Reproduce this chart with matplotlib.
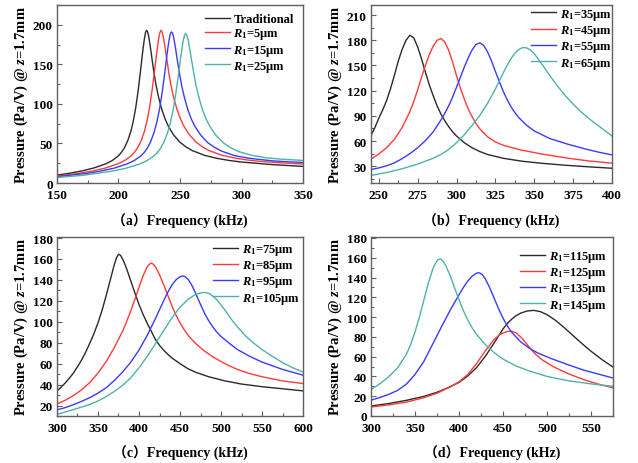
import matplotlib
matplotlib.use('Agg')
import matplotlib.pyplot as plt
from matplotlib.ticker import MultipleLocator, AutoMinorLocator

plt.rcParams['font.family'] = ['Liberation Serif', 'Noto Sans CJK SC']
plt.rcParams['font.weight'] = 'bold'
plt.rcParams['mathtext.fontset'] = 'custom'
plt.rcParams['mathtext.rm'] = 'Liberation Serif:bold'
plt.rcParams['mathtext.it'] = 'Liberation Serif:italic:bold'
plt.rcParams['mathtext.bf'] = 'Liberation Serif:bold'

# ---------------- Panel (a) ----------------
a_trad_f = [150, 160, 170, 180, 190, 195, 200, 202.5, 205, 207.5, 210, 212, 214, 216, 218, 219.5, 221, 222,
            222.8, 223.6, 224.6, 226, 227.5, 229, 230.5, 232.5, 235, 237.5, 240, 242.5, 245, 250, 255, 260,
            270, 280, 290, 300, 325, 350]
a_trad_p = [10, 12.3, 15.2, 19, 24.5, 28.5, 34.5, 39, 45, 53.5, 65, 78, 95, 117, 143, 164, 182, 190.5,
            193, 191.5, 185, 171, 154, 138, 124, 109, 94, 82.5, 73.5, 66.5, 60.5, 51.5, 45.5, 41,
            35, 31.2, 28.5, 26.5, 23.3, 21]
a_r5_f = [150, 168.3, 178.8, 189.4, 199.9, 205.2, 210.5, 213.1, 215.7, 218.4, 221, 223.1, 225.2, 227.3, 229.4,
          231, 232.6, 233.7, 234.5, 235.3, 236.4, 237.9, 239.5, 241, 242.6, 244.7, 247.4, 250, 252.6, 255.3,
          257.9, 263.2, 268.4, 273.7, 284.2, 294.8, 305.3, 315.9, 332, 350]
a_r5_p = [8.5, 12.4, 15.2, 18.9, 24.5, 28.6, 34.5, 39, 45, 53.5, 65, 78, 95, 117, 143,
          164, 182, 190.5, 193, 191.5, 185, 171, 154, 138, 124, 109, 94, 82.5, 73.5, 66.5,
          60.5, 51.5, 45.5, 41, 35, 31.5, 29, 27.3, 25.5, 24]
a_r15_f = [150, 174.5, 185.4, 196.3, 207.2, 212.7, 218.1, 220.9, 223.6, 226.3, 229, 231.2, 233.4, 235.6,
           237.8, 239.4, 241, 242.1, 243, 243.9, 245, 246.5, 248.1, 249.8, 251.4, 253.6, 256.3, 259, 261.7,
           264.5, 267.2, 272.6, 278.1, 283.5, 294.4, 305.3, 316.2, 327.1, 340, 350]
a_r15_p = [8, 12.2, 15.1, 18.7, 24.3, 28.3, 34.2, 38.6, 44.5, 52.9, 64.4, 77.2, 94, 115.7,
           141.5, 162.4, 180, 188.5, 191, 189.5, 183, 169, 152.4, 136.6, 122.6, 108, 93, 81.6, 72.8,
           65.9, 59.8, 51, 45, 40.5, 34.6, 31.5, 29.5, 27.8, 26.7, 26]
a_r25_f = [150, 171.5, 194.3, 205.7, 217.1, 222.8, 228.5, 231.4, 234.2, 237.1, 239.9, 242.2, 244.5, 246.7,
           249, 250.7, 252.4, 253.6, 254.5, 255.4, 256.6, 258.1, 259.9, 261.6, 263.3, 265.6, 268.4, 271.3,
           274.1, 277, 279.8, 285.5, 291.2, 296.9, 308.3, 319.7, 331.1, 350]
a_r25_p = [7, 9.8, 14.9, 18.5, 24, 28, 33.8, 38.2, 44, 52.4, 63.7, 76.4, 93, 114.5,
           140, 160.7, 178.2, 186.5, 189, 187.5, 181.3, 167.5, 150.8, 135.1, 121.3, 106.8, 92, 80.7,
           72, 65.2, 59.2, 50.5, 44.6, 40.1, 35, 32, 30.3, 28.5]

# ---------------- Panel (b) ----------------
b_r35_f = [245, 247.5, 250, 252.5, 255, 257.5, 260, 262.5, 265, 267.5, 270, 272.5, 275, 277.5, 280, 282.5,
           285, 287.5, 290, 292.5, 295, 297.5, 300, 305, 310, 315, 320, 330, 342, 355, 369, 385, 400]
b_r35_p = [66.5, 76, 87, 97, 108, 122, 138, 155, 169, 180, 186, 183, 172, 158, 142, 127,
           114, 102, 92, 84, 77, 71, 66, 58, 52, 47.5, 44, 39.5, 36, 33.5, 31.3, 29.3, 27.6]
b_r45_f = [245, 250, 255, 260, 265, 270, 272.5, 275, 277.5, 280, 282.5, 285, 287.5, 290, 292.5, 295, 297.5,
           300, 302.5, 305, 307.5, 310, 312.5, 315, 320, 325, 330, 341, 355, 372, 385, 400]
b_r45_p = [38.5, 44.5, 52, 62, 76, 95, 107, 121, 136, 150, 163, 173, 180, 182, 178, 168, 154,
           138, 123, 110, 98.5, 89, 81, 74.5, 65, 59, 55, 49.5, 44.5, 39.5, 36.3, 33.6]
b_r55_f = [245, 250, 255, 260, 265, 270, 275, 280, 285, 290, 292.5, 295, 297.5, 300, 302.5, 305, 307.5, 310,
           312.5, 315, 317.5, 320, 322.5, 325, 327.5, 330, 332.5, 335, 337.5, 340, 345, 350, 360, 372,
           383, 392, 400]
b_r55_p = [26, 28, 30.5, 34, 39, 45, 52, 60.5, 71, 85, 93, 102, 112.5, 124, 136, 148, 159, 168.5,
           175, 177, 174, 166, 155.5, 143, 131, 119.5, 109.5, 101, 94, 88, 79, 72, 63, 56,
           50.5, 46.5, 43.5]
b_r65_f = [245, 255, 265, 275, 285, 290, 295, 300, 305, 310, 315, 320, 325, 330, 332.5, 335, 337.5, 340,
           342.5, 345, 347.5, 350, 355, 360, 365, 370, 375, 380, 385, 390, 395, 400]
b_r65_p = [19, 22.5, 27, 32.5, 39.5, 44, 50, 58, 67.5, 78.5, 90.5, 105, 122, 141, 150, 158, 164.5, 169,
           171.3, 171, 168.5, 164, 151.5, 138, 125.5, 114, 104, 95, 87, 80, 73, 66]

# ---------------- Panel (c) ----------------
c_r75_f = [300, 305, 310, 315, 320, 325, 330, 335, 340, 345, 350, 355, 360, 365, 370, 372.5, 375, 377.5,
           380, 382.5, 385, 390, 395, 400, 405, 410, 415, 420, 425, 430, 435, 440, 450, 460, 470, 485,
           505, 525, 550, 575, 600]
c_r75_p = [34, 37.5, 41.5, 46, 51, 57, 63.5, 71, 79.5, 88.5, 99, 111, 125, 140, 155, 161, 164.5, 163.5,
           160, 155.5, 150.5, 139, 127.5, 116.5, 107, 98.5, 91, 83, 77.5, 73, 69, 65.5, 60, 55, 51.5, 47.5,
           43.5, 40.5, 38, 36, 34]
c_r85_f = [300, 310, 320, 330, 340, 350, 360, 370, 380, 385, 390, 395, 400, 405, 410, 412.5, 415, 417.5,
           420, 425, 430, 435, 440, 445, 450, 455, 460, 465, 470, 480, 490, 500, 510, 520, 535, 550,
           575, 600]
c_r85_p = [21.5, 25, 29.5, 35, 42, 51, 62, 75.5, 91, 100.5, 110.5, 121.5, 133, 144, 152.5, 155, 156, 155,
           152.5, 145, 135.5, 125.5, 115.5, 106.5, 99, 92.5, 87, 82.5, 78.5, 72, 66.5, 62, 58, 54.5,
           50.5, 47.5, 43.5, 41]
c_r95_f = [300, 310, 320, 330, 340, 350, 360, 370, 380, 390, 400, 410, 420, 425, 430, 435, 440, 445, 450,
           453, 456, 460, 465, 470, 475, 480, 485, 490, 495, 500, 510, 520, 535, 550, 575, 600]
c_r95_p = [15.8, 18, 20.8, 24, 27.5, 31.8, 37, 44, 52, 61.5, 73, 87, 103, 111.5, 120, 128, 135, 140, 143,
           143.8, 143.3, 140.5, 134, 125.5, 116.5, 108, 101, 95, 90, 86, 79.5, 73.5, 67, 61.5, 54.5, 49]
c_r105_f = [300, 310, 320, 330, 340, 350, 360, 370, 380, 390, 400, 410, 420, 430, 440, 450, 460, 467.5,
            475, 481, 487, 495, 500, 505, 512.5, 520, 530, 540, 550, 562.5, 575, 587.5, 600]
c_r105_p = [11.7, 13.8, 16.1, 18.5, 21, 24.3, 28.6, 33.5, 39.3, 46.5, 56, 67, 79, 91.5, 103.5, 114, 121.5,
            125.5, 127.6, 128, 126.5, 121, 116, 111, 102.5, 95, 86.5, 79.5, 73.5, 67, 61, 56, 52]

# ---------------- Panel (d) ----------------
d_r115_f = [300, 320, 340, 360, 375, 390, 400, 410, 420, 430, 440, 450, 455, 460, 465, 470, 477.5, 485,
            492.5, 500, 510, 520, 530, 540, 550, 562.5, 575]
d_r115_p = [10.1, 12.6, 15.8, 19.8, 24, 29.5, 34, 40.5, 49, 60.5, 74, 88, 93.5, 98, 101.5, 104, 106.2,
            106.8, 105.5, 102.5, 96.5, 89, 81, 73, 65.5, 57, 49.5]
d_r125_f = [300, 320, 340, 360, 375, 390, 400, 410, 420, 430, 440, 447.5, 455, 460, 465, 470, 475, 480,
            487.5, 495, 505, 515, 525, 535, 545, 560, 575]
d_r125_p = [9.1, 11.2, 14, 18.5, 23, 29.5, 34.5, 42, 53, 66, 77.5, 83, 85.5, 85.7, 84, 80, 75, 69.5,
            62, 56.5, 51, 46.5, 42.5, 39, 35.8, 31.8, 28.5]
d_r135_f = [300, 310, 320, 330, 340, 350, 360, 370, 380, 390, 400, 405, 410, 415, 420, 423, 426.5, 430,
            435, 440, 445, 450, 455, 460, 470, 480, 490, 505, 525, 543, 560, 575]
d_r135_p = [16, 18.7, 21.8, 25.8, 32, 42, 55, 72.5, 90, 107, 122.5, 130, 136.5, 141.5, 144.5, 144.8, 143,
            138.5, 129.5, 119, 108.5, 99, 91, 84.5, 75, 68.5, 63.5, 58, 51.5, 46, 42, 38.4]
d_r145_f = [300, 310, 320, 330, 340, 345, 350, 355, 360, 365, 370, 373, 376, 379, 382, 385, 390, 395, 400,
            405, 410, 415, 420, 430, 440, 450, 465, 480, 500, 525, 550, 575]
d_r145_p = [26.6, 32.5, 39.5, 48.5, 62, 72, 85, 100, 117, 134, 148, 154, 158, 158.8, 156.5, 152, 142,
            129.5, 117.5, 106.5, 97, 89, 82.5, 72, 64, 57.5, 50.5, 45.5, 40, 35.5, 32.5, 30]

colors = ['#2a2a2a', '#ff3a3a', '#3a3aff', '#4cb2ab']


def R(v):
    return r'$\mathit{R}_{\mathit{1}}$=' + v + 'μm'


panels = [
    dict(pos=[0.0893, 0.6034, 0.3857, 0.3836], xlim=(150, 350), ylim=(0, 225), xstep=50, ystep=50,
         tag='a', leg=(0.60, 0.955),
         series=[(a_trad_f, a_trad_p, 'Traditional'), (a_r5_f, a_r5_p, R('5')),
                 (a_r15_f, a_r15_p, R('15')), (a_r25_f, a_r25_p, R('25'))]),
    dict(pos=[0.5815, 0.6034, 0.3777, 0.3836], xlim=(245, 400), ylim=(10, 222), xstep=25, ystep=30,
         tag='b', leg=(0.664, 0.99),
         series=[(b_r35_f, b_r35_p, R('35')), (b_r45_f, b_r45_p, R('45')),
                 (b_r55_f, b_r55_p, R('55')), (b_r65_f, b_r65_p, R('65'))]),
    dict(pos=[0.0893, 0.1013, 0.3857, 0.3858], xlim=(300, 600), ylim=(10, 181), xstep=50, ystep=20,
         tag='c', leg=(0.634, 0.972),
         series=[(c_r75_f, c_r75_p, R('75')), (c_r85_f, c_r85_p, R('85')),
                 (c_r95_f, c_r95_p, R('95')), (c_r105_f, c_r105_p, R('105'))]),
    dict(pos=[0.5815, 0.1013, 0.3793, 0.3858], xlim=(300, 575), ylim=(0, 181), xstep=50, ystep=20,
         tag='d', leg=(0.616, 0.933),
         series=[(d_r115_f, d_r115_p, R('115')), (d_r125_f, d_r125_p, R('125')),
                 (d_r135_f, d_r135_p, R('135')), (d_r145_f, d_r145_p, R('145'))]),
]

fig = plt.figure(figsize=(6.38, 4.64), dpi=100)
spine_c = '#606060'
for p in panels:
    ax = fig.add_axes(p['pos'])
    for (f, v, lab), c in zip(p['series'], colors):
        ax.plot(f, v, color=c, lw=1.0, label=lab)
    ax.set_xlim(*p['xlim'])
    ax.set_ylim(*p['ylim'])
    ax.xaxis.set_major_locator(MultipleLocator(p['xstep']))
    ax.yaxis.set_major_locator(MultipleLocator(p['ystep']))
    ax.xaxis.set_minor_locator(AutoMinorLocator(2))
    ax.yaxis.set_minor_locator(AutoMinorLocator(2))
    ax.tick_params(which='both', direction='in', top=False, right=False, color=spine_c,
                   labelsize=9.5)
    ax.tick_params(axis='x', pad=4.5)
    ax.tick_params(axis='y', pad=3)
    ax.tick_params(which='major', length=3.5, width=0.8)
    ax.tick_params(which='minor', length=2, width=0.8)
    for s in ax.spines.values():
        s.set_color(spine_c)
        s.set_linewidth(1.0)
    ax.set_xlabel('（' + p['tag'] + '）Frequency (kHz)', fontsize=10, fontweight='bold', labelpad=8)
    ax.set_ylabel(r'Pressure (Pa/V) @ $\mathit{z}$=1.7mm', fontsize=10.5, fontweight='bold', labelpad=2)
    ax.legend(loc='upper left', bbox_to_anchor=p['leg'], frameon=False,
              handlelength=2.0, handletextpad=0.3, labelspacing=0.1, borderpad=0, borderaxespad=0,
              prop={'weight': 'bold', 'size': 9})

fig.savefig('out.png', dpi=100)
